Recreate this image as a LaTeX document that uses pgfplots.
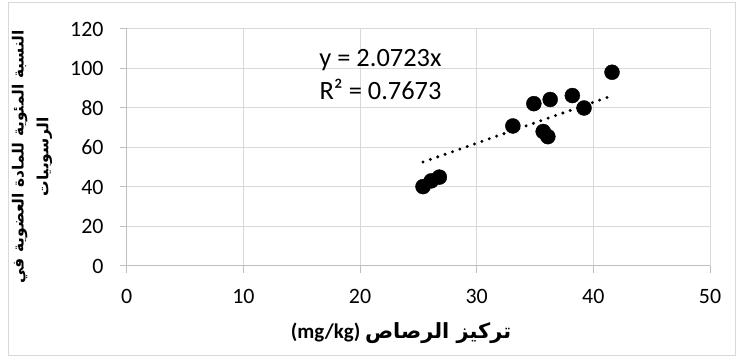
\documentclass[border=0pt]{standalone}
\usepackage{pgfplots}
\pgfplotsset{compat=1.18}
\usepackage{fontspec}
\setmainfont{Carlito}
\newfontfamily\arabicfont[Script=Arabic]{DejaVu Sans}
\TeXXeTstate=1
\definecolor{gridc}{HTML}{D9D9D9}
\definecolor{axisc}{HTML}{BFBFBF}
\begin{document}
\begin{tikzpicture}
\begin{axis}[
  at={(126.7bp,92bp)}, anchor=south west,
  scale only axis, width=583.3bp, height=237bp,
  xmin=0, xmax=50, ymin=0, ymax=120,
  xtick={0,10,20,30,40,50}, ytick={0,20,40,60,80,100,120},
  xticklabels={0,10,20,30,40,50},
  yticklabels={0,20,40,60,80,100,120},
  grid=major, major grid style={gridc, line width=1bp},
  axis lines*=left, axis line style={axisc, line width=1bp},
  tick align=outside, major tick length=7bp, tick style={axisc, line width=1bp},
  xticklabel style={font=\fontsize{22}{26}\selectfont, text=black, anchor=north, inner sep=0pt, yshift=-16bp},
  yticklabel style={font=\fontsize{22}{26}\selectfont, text=black, anchor=east, inner sep=0pt, xshift=-16bp},
  clip=false,
]
\addplot[only marks, mark=*, mark size=7.5bp, black, mark options={fill=black}] coordinates {
  (25.4,40.2) (26.1,43.1) (26.8,45.0) (33.1,70.9) (34.9,82.2) (36.3,84.3)
  (38.2,86.3) (39.2,80.0) (41.6,98.1) (35.7,68.1) (36.1,65.5)
};
\addplot[black, line width=3.3bp, dash pattern=on 0pt off 7.8bp, line cap=round] coordinates {
  (25.4,52.64) (41.7,86.41)
};
\node[anchor=east, inner sep=0pt, font=\fontsize{26.5}{30}\selectfont] at (axis cs:27.0,104.3) {y = 2.0723x};
\node[anchor=east, inner sep=0pt, font=\fontsize{26.5}{30}\selectfont] at (axis cs:27.0,89.6) {R² = 0.7673};
\end{axis}
\draw[gridc, line width=1bp] (8bp,2.5bp) rectangle (735.5bp,355.5bp);
\node[font=\fontsize{21}{25}\selectfont\bfseries] at (401bp,25bp) {\beginR{\arabicfont تركيز الرصاص} \beginL(mg/kg)\endL\endR};
\node[rotate=90, align=center, font=\arabicfont\bfseries\fontsize{15.5}{25}\selectfont] at (32bp,201bp)
  {\beginR النسبة المئوية للمادة العضوية في\endR\\\beginR الرسوبيات\endR};
\pgfresetboundingbox
\useasboundingbox (0bp,0bp) rectangle (737bp,358bp);
\end{tikzpicture}
\end{document}
